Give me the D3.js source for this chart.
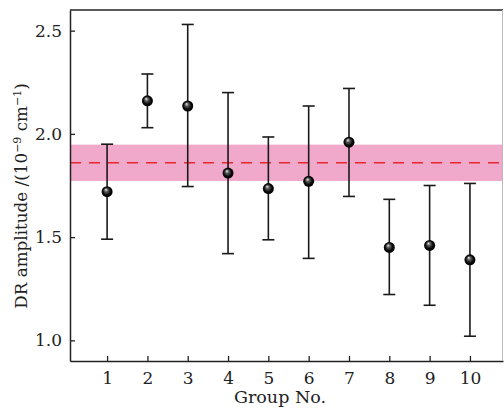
<!DOCTYPE html>
<html>
<head>
<meta charset="utf-8">
<script src="https://cdn.jsdelivr.net/npm/d3@7"></script>
<style>
  body { margin: 0; background: #fff; }
  text { font-family: "DejaVu Serif", "Liberation Serif", serif; }
</style>
</head>
<body>
<div id="chart"></div>
<script>
// values
const groups = [1, 2, 3, 4, 5, 6, 7, 8, 9, 10];
const amplitude = [1.72, 2.16, 2.135, 1.81, 1.735, 1.77, 1.96, 1.45, 1.46, 1.39];
const upper = [1.95, 2.29, 2.53, 2.20, 1.985, 2.135, 2.22, 1.683, 1.75, 1.76];
const lower = [1.49, 2.03, 1.745, 1.42, 1.487, 1.397, 1.697, 1.222, 1.17, 1.02];
const meanValue = 1.86;
const bandRange = [1.772, 1.948];
const yTicks = [1.0, 1.5, 2.0, 2.5];

const width = 504, height = 408;
const margin = { left: 70, right: 1, top: 10, bottom: 47 };

const svg = d3.select('#chart')
    .append('svg')
    .attr('width', width)
    .attr('height', height);

const x = d3.scaleLinear()
    .domain([0.08, 10.82])
    .range([margin.left, width - margin.right]);

const y = d3.scaleLinear()
    .domain([0.9, 2.6])
    .range([height - margin.bottom, margin.top]);

// shiny ball marker
const defs = svg.append('defs');
const grad = defs.append('radialGradient')
    .attr('id', 'ball')
    .attr('cx', '0.5').attr('cy', '0.5').attr('r', '0.5')
    .attr('fx', '0.38').attr('fy', '0.3');
grad.append('stop').attr('offset', '0%').attr('stop-color', '#f4f4f4');
grad.append('stop').attr('offset', '30%').attr('stop-color', '#606060');
grad.append('stop').attr('offset', '70%').attr('stop-color', '#0a0a0a');
grad.append('stop').attr('offset', '100%').attr('stop-color', '#000');

const clip = defs.append('clipPath').attr('id', 'plot-clip');
clip.append('rect')
    .attr('x', margin.left).attr('y', margin.top)
    .attr('width', width - margin.right - margin.left)
    .attr('height', height - margin.bottom - margin.top);

// uncertainty band and mean line
const plot = svg.append('g').attr('clip-path', 'url(#plot-clip)');
plot.append('rect')
    .attr('x', margin.left)
    .attr('width', width - margin.right - margin.left)
    .attr('y', y(bandRange[1]))
    .attr('height', y(bandRange[0]) - y(bandRange[1]))
    .attr('fill', '#f0a9cb');

plot.append('line')
    .attr('x1', margin.left).attr('x2', width - margin.right)
    .attr('y1', y(meanValue)).attr('y2', y(meanValue))
    .attr('stroke', '#e8262c')
    .attr('stroke-width', 1.6)
    .attr('stroke-dasharray', '11,8');

// axes
const xAxis = svg.append('g')
    .attr('transform', `translate(0,${height - margin.bottom})`)
    .call(d3.axisBottom(x).tickValues(groups).tickSize(-5).tickPadding(9).tickSizeOuter(0));
const yAxis = svg.append('g')
    .attr('transform', `translate(${margin.left},0)`)
    .call(d3.axisLeft(y).tickValues(yTicks).tickFormat(d3.format('.1f')).tickSize(-5).tickPadding(8).tickSizeOuter(0));

[xAxis, yAxis].forEach(a => {
    a.select('.domain').attr('stroke', '#222').attr('stroke-width', 1.5);
    a.selectAll('.tick line').attr('stroke', '#222').attr('stroke-width', 1.3);
    a.selectAll('.tick text')
        .attr('fill', '#222')
        .style('font-family', '"DejaVu Serif", serif')
        .style('font-size', '17px');
});
xAxis.selectAll('.tick text').attr('dy', '0.85em');

// top and right frame
svg.append('line')
    .attr('x1', margin.left).attr('x2', width - margin.right)
    .attr('y1', margin.top).attr('y2', margin.top)
    .attr('stroke', '#222').attr('stroke-width', 1.5);
svg.append('line')
    .attr('x1', width - margin.right - 0.5).attr('x2', width - margin.right - 0.5)
    .attr('y1', margin.top).attr('y2', height - margin.bottom)
    .attr('stroke', '#bbb').attr('stroke-width', 1);

// error bars
const bars = svg.append('g')
    .selectAll('g')
    .data(groups.map((g, i) => ({ g, v: amplitude[i], hi: upper[i], lo: lower[i] })))
    .enter()
    .append('g');

bars.append('line')
    .attr('x1', d => x(d.g)).attr('x2', d => x(d.g))
    .attr('y1', d => y(d.hi)).attr('y2', d => y(d.lo))
    .attr('stroke', '#1a1a1a').attr('stroke-width', 1.6);

['hi', 'lo'].forEach(k => {
    bars.append('line')
        .attr('x1', d => x(d.g) - 6).attr('x2', d => x(d.g) + 6)
        .attr('y1', d => y(d[k])).attr('y2', d => y(d[k]))
        .attr('stroke', '#1a1a1a').attr('stroke-width', 1.6);
});

bars.append('circle')
    .attr('cx', d => x(d.g))
    .attr('cy', d => y(d.v))
    .attr('r', 5.5)
    .attr('fill', 'url(#ball)');

// axis labels
svg.append('text')
    .attr('x', 280)
    .attr('y', 403)
    .attr('text-anchor', 'middle')
    .attr('fill', '#222')
    .style('font-size', '17.5px')
    .text('Group No.');

const yl = svg.append('text')
    .attr('transform', 'translate(27,196) rotate(-90)')
    .attr('text-anchor', 'middle')
    .attr('fill', '#222')
    .style('font-size', '16.8px');
yl.append('tspan').text('DR amplitude /(10');
yl.append('tspan').attr('dy', -6).style('font-size', '11px').text('−9');
yl.append('tspan').attr('dy', 6).text(' cm');
yl.append('tspan').attr('dy', -6).style('font-size', '11px').text('−1');
yl.append('tspan').attr('dy', 6).text(')');
</script>
</body>
</html>
